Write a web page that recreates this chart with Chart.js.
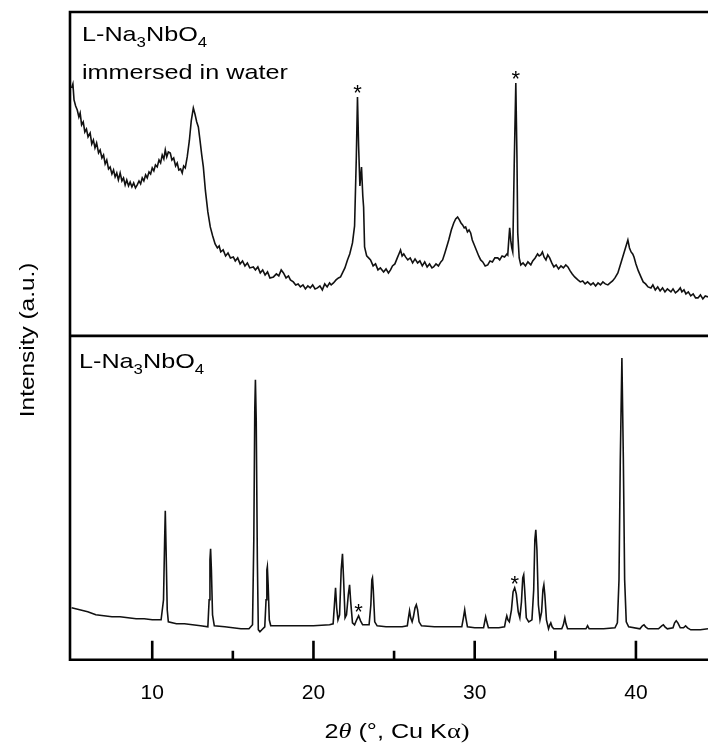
<!DOCTYPE html>
<html>
<head>
<meta charset="utf-8">
<script src="https://cdn.jsdelivr.net/npm/chart.js@4.4.0/dist/chart.umd.min.js"></script>
<style>
  html, body { margin: 0; padding: 0; background: #fff; }
</style>
</head>
<body>
<canvas id="xrd" width="708" height="749"></canvas>
<script>
// 2theta (deg) / intensity (a.u.) pairs
const waterPattern = [
  [5.00,248],[5.08,252],[5.15,236],[5.25,230],[5.35,226],[5.45,219],[5.53,223],[5.62,211],[5.72,214],[5.82,204],
  [5.92,207],[6.02,199],[6.15,203],[6.25,192],[6.35,196],[6.45,188],[6.55,193],[6.67,183],[6.77,186],[6.88,178],
  [6.98,181],[7.08,172],[7.18,176],[7.29,167],[7.39,169],[7.50,162],[7.60,166],[7.70,159],[7.80,163],[7.90,156],
  [8.01,163],[8.12,155],[8.22,158],[8.32,151],[8.42,156],[8.53,150],[8.63,154],[8.74,149],[8.85,153],[8.96,148],
  [9.07,151],[9.18,155],[9.28,152],[9.38,158],[9.48,155],[9.59,161],[9.69,158],[9.80,164],[9.90,162],[10.00,168],
  [10.10,165],[10.20,171],[10.31,169],[10.42,176],[10.52,173],[10.62,181],[10.72,177],[10.81,186],[10.90,179],[11.00,184],
  [11.12,183],[11.22,176],[11.33,178],[11.45,170],[11.55,173],[11.65,166],[11.76,167],[11.86,163],[11.95,170],[12.05,168],
  [12.17,179],[12.30,195],[12.42,215],[12.55,228],[12.65,222],[12.76,214],[12.86,209],[12.96,196],[13.07,181],[13.17,169],
  [13.30,145],[13.45,124],[13.60,109],[13.75,100],[13.90,92],[14.04,88],[14.15,90],[14.25,84],[14.40,86],[14.55,80],
  [14.70,83],[14.85,78],[15.03,79],[15.15,75],[15.30,78],[15.45,72],[15.60,75],[15.75,70],[15.90,73],[16.05,68],
  [16.27,69],[16.40,66],[16.55,69],[16.70,63],[16.85,66],[17.00,61],[17.15,64],[17.30,58],[17.52,59],[17.70,62],
  [17.85,60],[18.00,66],[18.14,63],[18.30,58],[18.45,60],[18.57,56],[18.75,54],[18.90,51],[19.05,52],[19.19,49],
  [19.35,51],[19.50,47],[19.65,50],[19.80,48],[19.95,51],[20.10,47],[20.25,48],[20.40,50],[20.55,46],[20.70,52],
  [20.85,49],[21.00,53],[21.10,51],[21.24,53],[21.40,56],[21.55,58],[21.68,59],[21.80,63],[21.95,68],[22.11,76],
  [22.25,82],[22.42,93],[22.55,110],[22.66,180],[22.73,239],[22.80,190],[22.88,150],[22.98,169],[23.06,140],[23.11,129],
  [23.17,89],[23.30,80],[23.42,78],[23.54,76],[23.70,70],[23.85,72],[24.00,66],[24.15,68],[24.35,64],[24.50,67],
  [24.65,63],[24.78,66],[24.90,70],[25.05,72],[25.20,78],[25.30,82],[25.40,86],[25.50,80],[25.60,82],[25.71,79],
  [25.85,76],[26.00,78],[26.15,73],[26.30,77],[26.46,73],[26.60,75],[26.75,70],[26.90,74],[27.05,69],[27.20,72],
  [27.35,68],[27.45,69],[27.60,72],[27.75,70],[27.90,74],[28.01,76],[28.15,83],[28.28,90],[28.39,96],[28.55,106],
  [28.70,113],[28.82,117],[28.94,119],[29.05,116],[29.15,113],[29.25,111],[29.35,108],[29.44,109],[29.55,104],[29.65,106],
  [29.75,103],[29.85,96],[29.95,92],[30.10,86],[30.25,80],[30.37,76],[30.50,74],[30.65,70],[30.81,71],[30.95,75],
  [31.10,74],[31.25,78],[31.43,78],[31.55,76],[31.70,80],[31.85,79],[32.00,82],[32.05,81],[32.11,95],[32.17,108],
  [32.24,95],[32.30,88],[32.36,84],[32.45,170],[32.55,253],[32.62,180],[32.67,103],[32.76,78],[32.86,71],[33.00,73],
  [33.15,70],[33.30,74],[33.48,71],[33.60,75],[33.75,78],[33.90,82],[34.00,80],[34.10,81],[34.20,84],[34.30,79],
  [34.42,76],[34.53,81],[34.65,78],[34.78,73],[34.91,69],[35.05,71],[35.20,67],[35.35,70],[35.50,68],[35.65,71],
  [35.78,69],[35.92,65],[36.05,62],[36.20,59],[36.40,56],[36.55,54],[36.70,55],[36.85,52],[37.00,54],[37.20,51],
  [37.35,53],[37.50,50],[37.65,53],[37.80,51],[37.95,54],[38.10,52],[38.26,51],[38.40,53],[38.55,55],[38.70,58],
  [38.88,63],[39.05,72],[39.20,80],[39.35,88],[39.50,96],[39.60,88],[39.70,84],[39.80,82],[39.88,79],[40.00,72],
  [40.15,65],[40.31,59],[40.45,54],[40.60,52],[40.75,49],[40.93,48],[41.05,51],[41.20,46],[41.35,49],[41.50,45],
  [41.65,48],[41.80,44],[41.95,47],[42.17,44],[42.30,47],[42.45,43],[42.60,45],[42.75,48],[42.85,44],[42.98,46],
  [43.10,42],[43.25,44],[43.40,40],[43.55,42],[43.70,38],[43.85,38],[44.00,41],[44.15,37],[44.30,40],[44.47,39]
];

const pristinePattern = [
  [5.00,52],[5.50,50],[6.00,48],[6.50,45],[7.00,44],[7.50,43],[8.00,43],[8.50,42],[9.00,41],[9.50,41],
  [10.00,40],[10.55,40],[10.70,60],[10.77,120],[10.81,149],[10.86,110],[10.93,50],[11.00,38],[11.50,36],[12.00,36],
  [12.50,35],[13.00,34],[13.45,33],[13.53,60],[13.58,100],[13.62,111],[13.67,90],[13.74,45],[13.85,34],[14.50,33],
  [15.00,32],[15.50,31],[16.00,31],[16.22,35],[16.30,120],[16.36,250],[16.40,280],[16.45,240],[16.52,100],[16.58,30],
  [16.68,28],[16.80,30],[16.98,33],[17.06,60],[17.11,90],[17.14,93],[17.19,75],[17.26,40],[17.35,34],[18.00,34],
  [19.00,34],[20.00,34],[21.00,35],[21.22,36],[21.30,55],[21.37,72],[21.44,52],[21.52,40],[21.62,45],[21.72,90],
  [21.80,106],[21.87,80],[21.96,42],[22.05,45],[22.16,65],[22.24,75],[22.31,58],[22.42,37],[22.55,35],[22.68,40],
  [22.80,44],[22.92,39],[23.05,35],[23.45,35],[23.56,55],[23.62,80],[23.66,82],[23.71,70],[23.80,38],[23.95,34],
  [24.50,33],[25.00,33],[25.50,33],[25.82,34],[25.90,43],[25.96,49],[26.03,42],[26.12,38],[26.20,43],[26.30,52],
  [26.38,55],[26.46,50],[26.55,38],[26.70,34],[27.50,33],[28.50,33],[29.20,33],[29.30,42],[29.38,50],[29.45,42],
  [29.55,33],[30.00,32],[30.55,32],[30.62,38],[30.68,43],[30.75,38],[30.85,32],[31.50,32],[31.85,33],[31.93,40],
  [31.99,44],[32.06,40],[32.15,38],[32.28,50],[32.38,68],[32.48,72],[32.58,66],[32.70,48],[32.80,42],[32.90,58],
  [32.98,82],[33.04,85],[33.10,70],[33.20,42],[33.35,38],[33.55,40],[33.66,70],[33.73,120],[33.79,130],[33.86,110],
  [33.95,55],[34.05,40],[34.15,48],[34.23,70],[34.29,75],[34.35,65],[34.45,40],[34.58,31],[34.66,35],[34.72,37],
  [34.80,33],[34.90,31],[35.40,31],[35.50,35],[35.59,42],[35.66,36],[35.76,31],[36.90,31],[37.00,34],[37.10,31],
  [38.00,31],[38.70,32],[38.85,37],[38.95,80],[39.03,200],[39.13,302],[39.22,200],[39.30,80],[39.40,38],[39.55,33],
  [40.25,31],[40.40,34],[40.50,35],[40.60,33],[40.75,31],[41.40,31],[41.60,34],[41.70,35],[41.80,33],[41.95,31],
  [42.30,32],[42.40,37],[42.50,39],[42.60,37],[42.75,32],[42.95,32],[43.08,34],[43.20,32],[43.40,30],[44.00,30],
  [44.47,31]
];

const majorTicks = [10, 20, 30, 40];
const minorTicks = [15, 25, 35];
const waterStars = [22.73, 32.55];
const pristineStars = [22.80, 32.48];

const SANS = '"Liberation Sans", Arial, sans-serif';
const SERIF = '"Liberation Serif", "Times New Roman", serif';

// draw a run of text pieces (different fonts / baseline shifts), stretched along x
function drawRuns(ctx, x, y, runs, sx, align) {
  ctx.save();
  ctx.translate(x, y);
  ctx.scale(sx, 1);
  let total = 0;
  for (const r of runs) { ctx.font = r.font; total += ctx.measureText(r.t).width; }
  let cx = align === 'center' ? -total / 2 : 0;
  ctx.textAlign = 'left';
  ctx.textBaseline = 'alphabetic';
  for (const r of runs) {
    ctx.font = r.font;
    ctx.fillText(r.t, cx, r.dy || 0);
    cx += ctx.measureText(r.t).width;
  }
  ctx.restore();
}

function formula(size) {
  const big = size + 'px ' + SANS, small = Math.round(size * 0.68) + 'px ' + SANS;
  return [
    {t: 'L-Na', font: big}, {t: '3', font: small, dy: 6},
    {t: 'NbO', font: big}, {t: '4', font: small, dy: 6}
  ];
}

const decorations = {
  id: 'decorations',
  afterDraw(chart) {
    const ctx = chart.ctx;
    const {left, right, top, bottom} = chart.chartArea;
    const xs = chart.scales.x, yT = chart.scales.yTop, yB = chart.scales.yBot;
    ctx.save();
    ctx.strokeStyle = '#000';
    ctx.fillStyle = '#000';
    ctx.lineWidth = 2.6;
    ctx.beginPath();
    ctx.moveTo(right + 4, top); ctx.lineTo(left, top);
    ctx.lineTo(left, bottom); ctx.lineTo(right + 4, bottom);
    ctx.moveTo(left, yB.top); ctx.lineTo(right + 4, yB.top);
    for (const v of majorTicks) {
      const px = xs.getPixelForValue(v);
      ctx.moveTo(px, bottom); ctx.lineTo(px, bottom - 19);
    }
    for (const v of minorTicks) {
      const px = xs.getPixelForValue(v);
      ctx.moveTo(px, bottom); ctx.lineTo(px, bottom - 9);
    }
    ctx.stroke();

    // asterisks over the marked reflections
    const star = (pattern, stars, yScale) => {
      ctx.font = '22px ' + SANS;
      ctx.textAlign = 'center';
      ctx.textBaseline = 'alphabetic';
      for (const s of stars) {
        let best = null;
        for (const p of pattern) {
          if (Math.abs(p[0] - s) <= 0.12 && (!best || p[1] > best[1])) best = p;
        }
        ctx.fillText('*', xs.getPixelForValue(best[0]), yScale.getPixelForValue(best[1]) + 3);
      }
    };
    star(waterPattern, waterStars, yT);
    star(pristinePattern, pristineStars, yB);

    // panel labels
    drawRuns(ctx, left + 12, yT.top + 29, formula(21), 1.2, 'left');
    drawRuns(ctx, left + 12, yT.top + 67, [{t: 'immersed in water', font: '21px ' + SANS}], 1.2, 'left');
    drawRuns(ctx, left + 9, yB.top + 32, formula(21), 1.2, 'left');

    // y title
    ctx.save();
    ctx.translate(34, (top + bottom) / 2 + 4);
    ctx.rotate(-Math.PI / 2);
    drawRuns(ctx, 0, 0, [{t: 'Intensity (a.u.)', font: '20px ' + SANS}], 1.22, 'center');
    ctx.restore();

    // x title: 2θ (°, Cu Kα)
    drawRuns(ctx, 397, 738, [
      {t: '2', font: '21px ' + SANS},
      {t: 'θ', font: 'italic 22px ' + SERIF},
      {t: ' (°, Cu K', font: '21px ' + SANS},
      {t: 'α)', font: '22px ' + SERIF}
    ], 1.2, 'center');
    ctx.restore();
  }
};

const hiddenY = (weight) => ({
  type: 'linear',
  position: 'left',
  stack: 'panels',
  stackWeight: 1,
  weight: weight,
  min: 0,
  max: 324,
  ticks: { display: false },
  grid: { display: false, drawTicks: false },
  border: { display: false }
});

new Chart(document.getElementById('xrd').getContext('2d'), {
  type: 'line',
  data: {
    datasets: [
      {
        label: 'immersed in water',
        data: waterPattern.map(p => ({x: p[0], y: p[1]})),
        yAxisID: 'yTop',
        borderColor: '#111',
        borderWidth: 1.6,
        pointRadius: 0,
        tension: 0
      },
      {
        label: 'L-Na3NbO4',
        data: pristinePattern.map(p => ({x: p[0], y: p[1]})),
        yAxisID: 'yBot',
        borderColor: '#111',
        borderWidth: 1.6,
        pointRadius: 0,
        tension: 0
      }
    ]
  },
  options: {
    responsive: false,
    animation: false,
    layout: { padding: { left: 70, right: 0, top: 12, bottom: 22 } },
    plugins: { legend: { display: false }, tooltip: { enabled: false } },
    scales: {
      x: {
        type: 'linear',
        min: 4.9,
        max: 44.47,
        afterBuildTicks: (scale) => { scale.ticks = majorTicks.map(v => ({value: v})); },
        ticks: {
          autoSkip: false,
          maxRotation: 0,
          padding: 21,
          color: '#000',
          font: { family: SANS, size: 21 }
        },
        grid: { display: false, drawTicks: false },
        border: { display: false }
      },
      yTop: hiddenY(2),
      yBot: hiddenY(1)
    }
  },
  plugins: [decorations]
});
</script>
</body>
</html>
